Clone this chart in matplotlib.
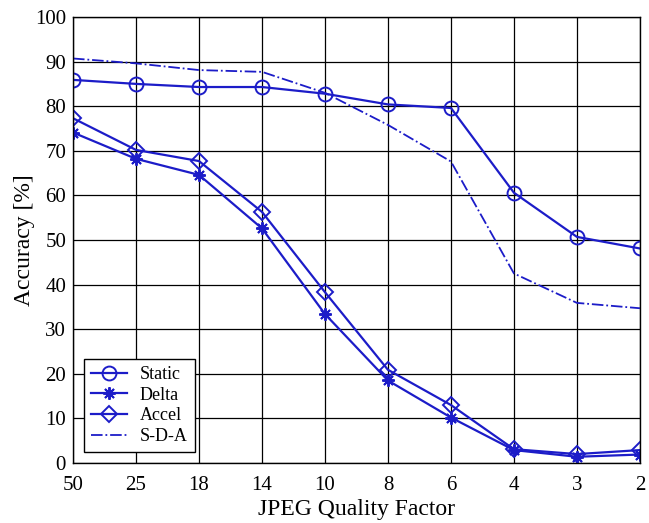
import matplotlib
matplotlib.use("Agg")
import matplotlib.pyplot as plt

quality = ["50", "25", "18", "14", "10", "8", "6", "4", "3", "2"]
static = [85.9, 85.0, 84.3, 84.3, 82.8, 80.4, 79.6, 60.6, 50.7, 48.1]
delta = [74.1, 68.2, 64.6, 52.6, 33.4, 18.5, 10.2, 2.9, 1.4, 1.9]
accel = [77.3, 70.2, 67.7, 56.3, 38.3, 20.9, 13.0, 3.1, 2.0, 2.9]
sda = [90.7, 89.6, 88.1, 87.7, 83.0, 75.8, 67.6, 42.5, 35.9, 34.7]

BLUE = "#1c1cc8"
plt.rcParams["font.family"] = "Liberation Serif"

fig = plt.figure(figsize=(6.49, 5.23), dpi=100)
ax = fig.add_axes([0.1125, 0.1147, 0.8735, 0.8528])
x = range(len(quality))

ax.plot(x, static, color=BLUE, lw=1.6, marker="o", ms=10, mfc="none", mew=1.4, label="Static")
ax.plot(x, delta, color=BLUE, lw=1.6, marker=(8, 2, 0), ms=9, mew=1.4, label="Delta")
ax.plot(x, accel, color=BLUE, lw=1.6, marker="D", ms=8, mfc="none", mew=1.4, label="Accel")
ax.plot(x, sda, color=BLUE, lw=1.3, ls="-.", label="S-D-A")

ax.set_xlim(0, len(quality) - 1)
ax.set_ylim(0, 100)
ax.set_xticks(list(x))
ax.set_xticklabels(quality)
ax.set_yticks(range(0, 101, 10))
ax.tick_params(labelsize=15, length=0)
ax.tick_params(axis="y", pad=5)
ax.tick_params(axis="x", pad=9)
ax.grid(True, color="black", lw=0.9)
for s in ax.spines.values():
    s.set_linewidth(1.0)
ax.set_xlabel("JPEG Quality Factor", fontsize=17, labelpad=3)
ax.set_ylabel("Accuracy [%]", fontsize=17, labelpad=0)

leg = ax.legend(loc="lower left", fontsize=13, fancybox=False, framealpha=1,
                edgecolor="black", borderaxespad=0.6, handlelength=2.0,
                handletextpad=0.7, labelspacing=0.2, borderpad=0.4)
leg.get_frame().set_linewidth(1.0)

fig.savefig("out.png", dpi=100)
